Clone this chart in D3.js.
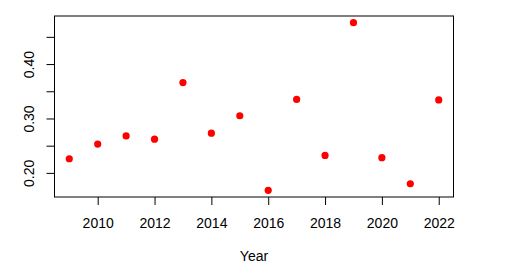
<!DOCTYPE html>
<html>
<head>
<meta charset="utf-8">
<script src="https://cdn.jsdelivr.net/npm/d3@7"></script>
<style>
  body { margin: 0; background: #fff; }
  text { font-family: "Liberation Sans", Arial, sans-serif; fill: #000; }
</style>
</head>
<body>
<div id="plot"></div>
<script>
var svgWidth = 512;
var svgHeight = 279;

// plot region (R-style box)
var box = { left: 54.5, top: 16, right: 453.5, bottom: 197 };

// data
var years = [2009, 2010, 2011, 2012, 2013, 2014, 2015, 2016, 2017, 2018, 2019, 2020, 2021, 2022];
var values = [0.226, 0.253, 0.268, 0.262, 0.366, 0.273, 0.305, 0.168, 0.335, 0.232, 0.476, 0.228, 0.180, 0.334];
var xTicks = [2010, 2012, 2014, 2016, 2018, 2020, 2022];
var yTicks = [0.20, 0.25, 0.30, 0.35, 0.40, 0.45];
var yTickLabels = ["0.20", "", "0.30", "", "0.40", ""];

var svg = d3.select("#plot")
  .append("svg")
  .attr("width", svgWidth)
  .attr("height", svgHeight);

// R pads the data range by 4% on each side
function pad(ext) {
  var d = (ext[1] - ext[0]) * 0.04;
  return [ext[0] - d, ext[1] + d];
}

var x = d3.scaleLinear()
  .domain(pad(d3.extent(years)))
  .range([box.left, box.right]);

var y = d3.scaleLinear()
  .domain(pad(d3.extent(values)))
  .range([box.bottom, box.top]);

// axes
var bottomAxis = d3.axisBottom(x)
  .tickValues(xTicks)
  .tickFormat(d3.format("d"))
  .tickSize(8)
  .tickPadding(13);

var leftAxis = d3.axisLeft(y)
  .tickValues(yTicks)
  .tickFormat((d, i) => yTickLabels[i])
  .tickSize(8);

var gx = svg.append("g")
  .attr("transform", `translate(0, ${box.bottom})`)
  .call(bottomAxis);
gx.select(".domain").remove();
gx.selectAll("text").style("font-size", "14px");

var gy = svg.append("g")
  .attr("transform", `translate(${box.left}, 0)`)
  .call(leftAxis);
gy.select(".domain").remove();
gy.selectAll("text")
  .style("font-size", "14px")
  .attr("text-anchor", "middle")
  .attr("dy", null)
  .attr("x", null)
  .attr("y", 0)
  .attr("transform", "translate(-21, 0) rotate(-90)");

svg.selectAll(".tick line").attr("stroke", "#000");

// box
svg.append("rect")
  .attr("x", box.left)
  .attr("y", box.top)
  .attr("width", box.right - box.left)
  .attr("height", box.bottom - box.top)
  .attr("fill", "none")
  .attr("stroke", "#000")
  .attr("stroke-width", 1);

// points
svg.selectAll("circle")
  .data(years)
  .enter()
  .append("circle")
  .attr("cx", d => x(d))
  .attr("cy", (d, i) => y(values[i]))
  .attr("r", 3.6)
  .attr("fill", "#ff0000");

// axis title
svg.append("text")
  .attr("x", (box.left + box.right) / 2)
  .attr("y", 260.5)
  .attr("text-anchor", "middle")
  .style("font-size", "14px")
  .text("Year");
</script>
</body>
</html>
